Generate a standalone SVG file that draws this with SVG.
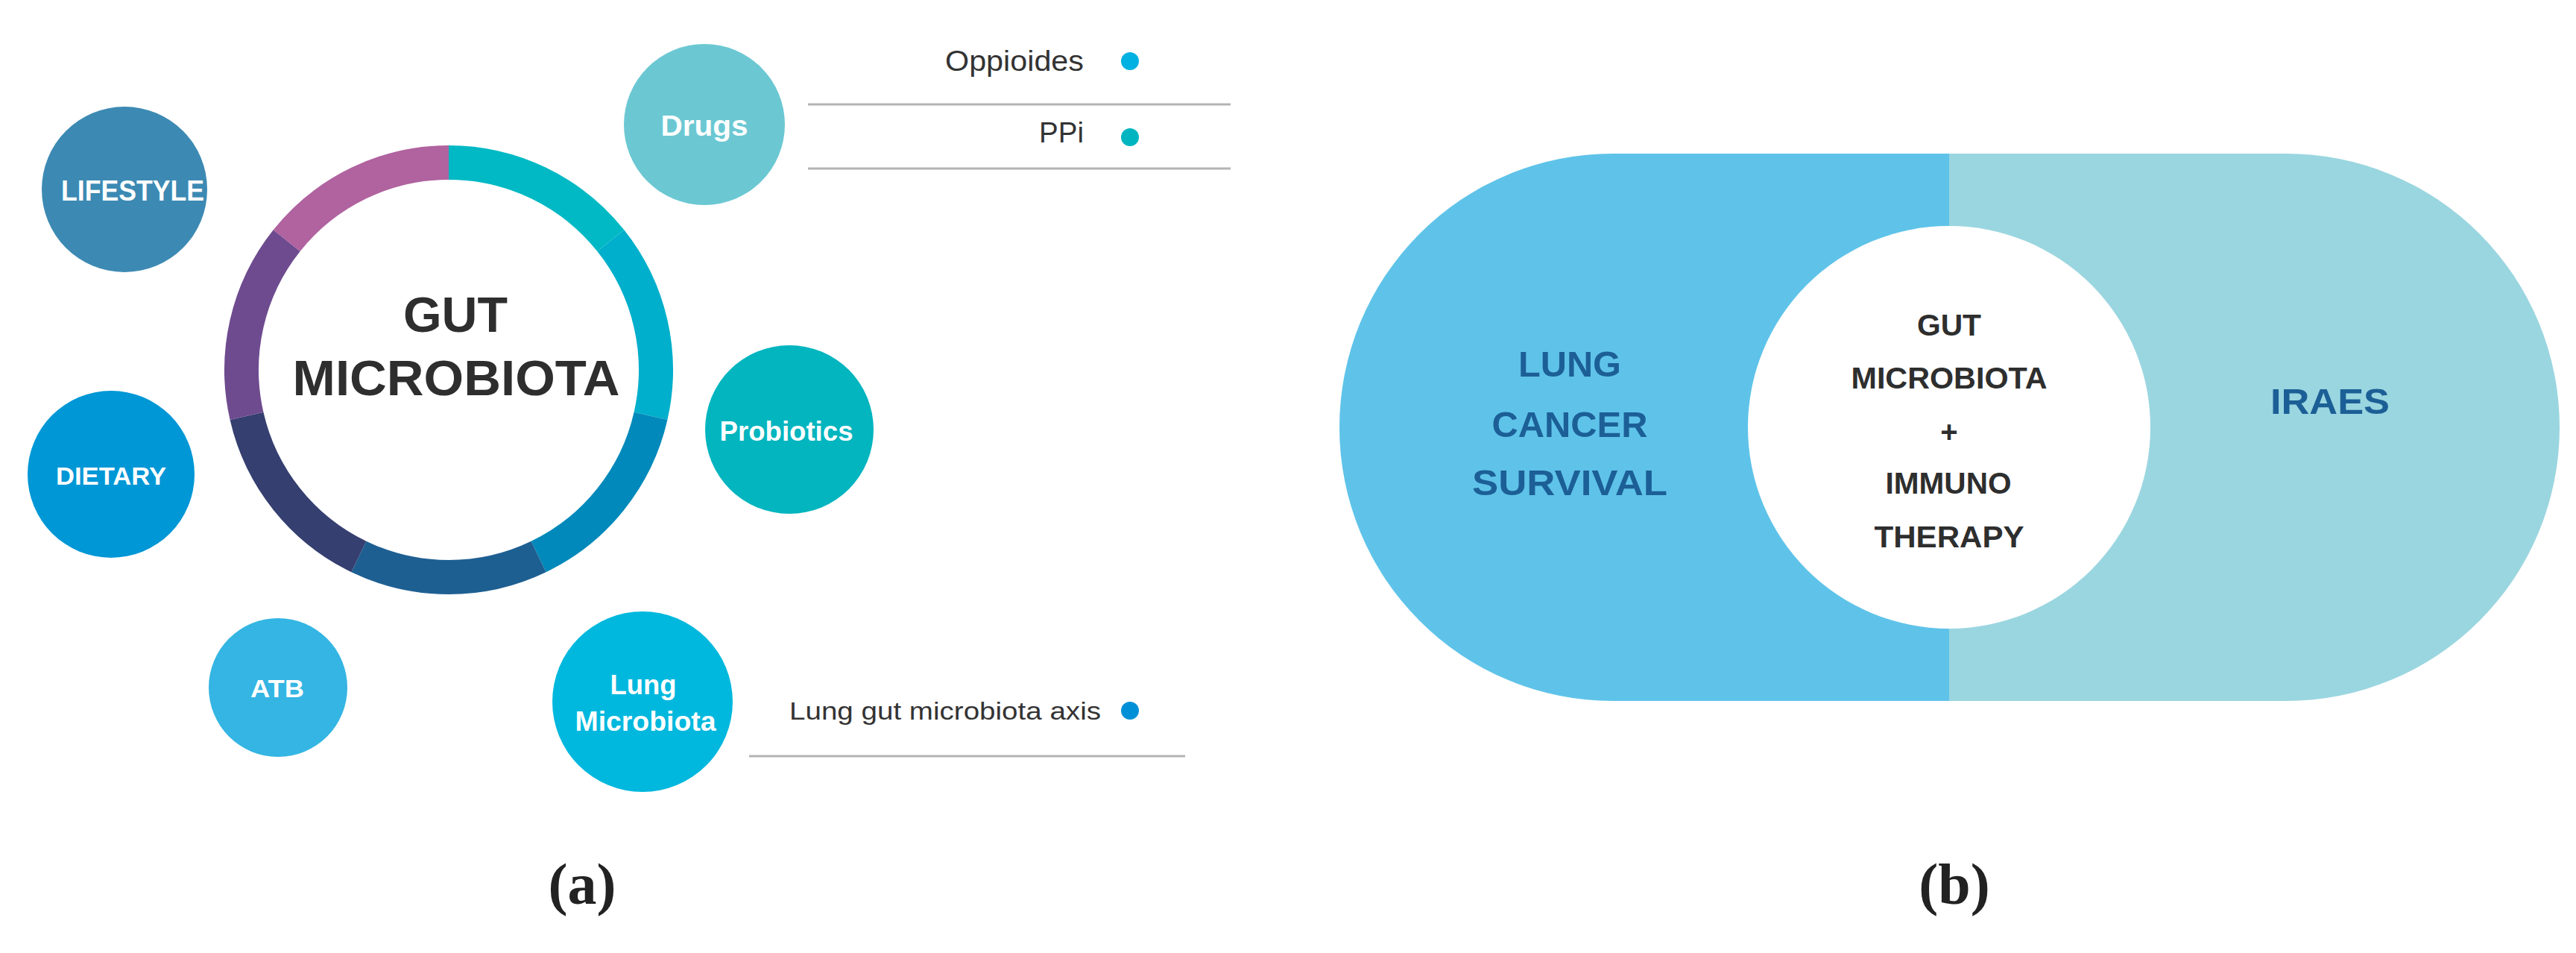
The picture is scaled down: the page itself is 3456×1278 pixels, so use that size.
<svg xmlns="http://www.w3.org/2000/svg" width="3456" height="1278" viewBox="0 0 3456 1278">
<style>
.lbl{font-family:"Liberation Sans",Arial,sans-serif;font-weight:bold;fill:#ffffff;text-anchor:middle}
.dark{font-family:"Liberation Sans",Arial,sans-serif;font-weight:bold;fill:#2e2e2e;text-anchor:middle}
.leg{font-family:"Liberation Sans",Arial,sans-serif;fill:#333333;text-anchor:end}
.blue{font-family:"Liberation Sans",Arial,sans-serif;font-weight:bold;fill:#1c5f96;text-anchor:middle}
.seg{fill:none;stroke-width:46;stroke-linecap:butt}
.sep{stroke:#b3b3b3;stroke-width:3}
.cap{font-family:"Liberation Serif","Times New Roman",serif;font-weight:bold;font-size:78px;fill:#222222;text-anchor:middle}
</style>
<rect width="3456" height="1278" fill="#ffffff"/>

<g id="panel-a">
  <g id="gut-microbiota">
    <path class="seg" stroke="#00b9c4" d="M602 218 A278 278 0 0 1 819.3 322.7"/>
    <path class="seg" stroke="#00afcb" d="M819.3 322.7 A278 278 0 0 1 873 557.9"/>
    <path class="seg" stroke="#0089ba" d="M873 557.9 A278 278 0 0 1 722.6 746.5"/>
    <path class="seg" stroke="#1e5f92" d="M722.6 746.5 A278 278 0 0 1 481.4 746.5"/>
    <path class="seg" stroke="#353f70" d="M481.4 746.5 A278 278 0 0 1 331 557.9"/>
    <path class="seg" stroke="#6e4b8f" d="M331 557.9 A278 278 0 0 1 384.7 322.7"/>
    <path class="seg" stroke="#b0639f" d="M384.7 322.7 A278 278 0 0 1 602 218"/>
    <text class="dark" x="611" y="445" font-size="66" textLength="140" lengthAdjust="spacingAndGlyphs">GUT</text>
    <text class="dark" x="612" y="530" font-size="66" textLength="439" lengthAdjust="spacingAndGlyphs">MICROBIOTA</text>
  </g>
  <g id="lifestyle">
    <circle cx="167" cy="254" r="111" fill="#3c8ab3"/>
    <text class="lbl" x="178" y="269" font-size="39" textLength="192" lengthAdjust="spacingAndGlyphs">LIFESTYLE</text>
  </g>
  <g id="dietary">
    <circle cx="149" cy="636" r="112" fill="#0097d6"/>
    <text class="lbl" x="149" y="650" font-size="34" textLength="148" lengthAdjust="spacingAndGlyphs">DIETARY</text>
  </g>
  <g id="atb">
    <circle cx="373" cy="922" r="93" fill="#34b5e3"/>
    <text class="lbl" x="372" y="935" font-size="34" textLength="72" lengthAdjust="spacingAndGlyphs">ATB</text>
  </g>
  <g id="drugs">
    <circle cx="945" cy="167" r="108" fill="#6bc8d3"/>
    <text class="lbl" x="945" y="182" font-size="39" textLength="117" lengthAdjust="spacingAndGlyphs">Drugs</text>
  </g>
  <g id="probiotics">
    <circle cx="1059" cy="576" r="113" fill="#02b5bf"/>
    <text class="lbl" x="1055" y="591" font-size="37" textLength="179" lengthAdjust="spacingAndGlyphs">Probiotics</text>
  </g>
  <g id="lung-microbiota">
    <circle cx="862" cy="941" r="121" fill="#00b8de"/>
    <text class="lbl" x="863" y="931" font-size="36" textLength="89" lengthAdjust="spacingAndGlyphs">Lung</text>
    <text class="lbl" x="866" y="980" font-size="36" textLength="189" lengthAdjust="spacingAndGlyphs">Microbiota</text>
  </g>
  <g id="legend-oppioides">
    <text class="leg" x="1454" y="95" font-size="38" textLength="186" lengthAdjust="spacingAndGlyphs">Oppioides</text>
    <circle cx="1516" cy="82" r="12" fill="#00b1e2"/>
  </g>
  <g id="legend-ppi">
    <text class="leg" x="1454" y="191" font-size="38" textLength="60" lengthAdjust="spacingAndGlyphs">PPi</text>
    <circle cx="1516" cy="184" r="12" fill="#00b5c0"/>
  </g>
  <g id="legend-axis">
    <text class="leg" x="1477" y="965" font-size="34" textLength="418" lengthAdjust="spacingAndGlyphs">Lung gut microbiota axis</text>
    <circle cx="1516" cy="953" r="12" fill="#0090d8"/>
  </g>
  <g id="connectors">
    <line class="sep" x1="1084" y1="140" x2="1651" y2="140"/>
    <line class="sep" x1="1084" y1="226" x2="1651" y2="226"/>
    <line class="sep" x1="1005" y1="1014" x2="1590" y2="1014"/>
  </g>
  <text class="cap" x="781" y="1212">(a)</text>
</g>

<g id="panel-b">
  <g id="lung-cancer-survival">
    <path d="M2615 206 L2164 206 A367 367 0 0 0 2164 940 L2615 940 Z" fill="#5fc3e9"/>
    <text class="blue" x="2106" y="505" font-size="48" textLength="138" lengthAdjust="spacingAndGlyphs">LUNG</text>
    <text class="blue" x="2106" y="586" font-size="48" textLength="209" lengthAdjust="spacingAndGlyphs">CANCER</text>
    <text class="blue" x="2106" y="664" font-size="48" textLength="262" lengthAdjust="spacingAndGlyphs">SURVIVAL</text>
  </g>
  <g id="iraes">
    <path d="M2615 206 L3067 206 A367 367 0 0 1 3067 940 L2615 940 Z" fill="#9ad6e0"/>
    <text class="blue" x="3126" y="555" font-size="48" textLength="160" lengthAdjust="spacingAndGlyphs">IRAES</text>
  </g>
  <g id="gut-immuno">
    <circle cx="2615" cy="573" r="270" fill="#ffffff"/>
    <text class="dark" x="2615" y="450" font-size="40" textLength="86" lengthAdjust="spacingAndGlyphs">GUT</text>
    <text class="dark" x="2615" y="521" font-size="40" textLength="263" lengthAdjust="spacingAndGlyphs">MICROBIOTA</text>
    <text class="dark" x="2615" y="593" font-size="40">+</text>
    <text class="dark" x="2614" y="662" font-size="40" textLength="169" lengthAdjust="spacingAndGlyphs">IMMUNO</text>
    <text class="dark" x="2615" y="734" font-size="40" textLength="201" lengthAdjust="spacingAndGlyphs">THERAPY</text>
  </g>
  <text class="cap" x="2622" y="1212">(b)</text>
</g>
</svg>
